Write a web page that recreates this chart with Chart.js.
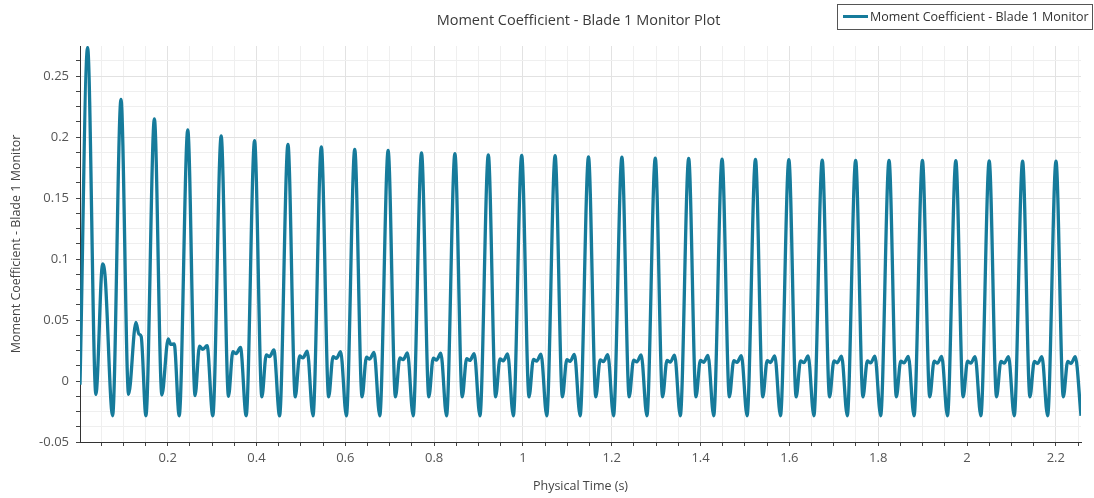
<!DOCTYPE html>
<html lang="en">
<head>
    <meta charset="UTF-8">
    <title>Moment Coefficient - Blade 1 Monitor Plot</title>
    <style>
        body {
            margin: 0;
            background-color: #ffffff;
        }

        .plot-box {
            position: relative;
            width: 1094px;
            height: 498px;
        }
    </style>
</head>
<body>

    <div class="plot-box">
        <canvas id="monitor-plot"></canvas>
    </div>

    <script src="https://cdn.jsdelivr.net/npm/chart.js"></script>
    <script>
        // Monitor samples: physical time (s) and moment coefficient, one blade revolution per line
        var timeS = [
            0.0025,
            0.0196, 0.0383, 0.0534, 0.0590, 0.0759,
            0.0948, 0.1119, 0.1284, 0.1351, 0.1403, 0.1509,
            0.1700, 0.1869, 0.2011, 0.2072, 0.2146, 0.2259,
            0.2452, 0.2617, 0.2715, 0.2790, 0.2887, 0.3015,
            0.3204, 0.3369, 0.3467, 0.3542, 0.3639, 0.3767,
            0.3956, 0.4121, 0.4219, 0.4294, 0.4391, 0.4519,
            0.4708, 0.4873, 0.4971, 0.5046, 0.5143, 0.5271,
            0.5460, 0.5625, 0.5723, 0.5798, 0.5895, 0.6023,
            0.6212, 0.6377, 0.6475, 0.6550, 0.6647, 0.6775,
            0.6964, 0.7129, 0.7227, 0.7302, 0.7399, 0.7527,
            0.7716, 0.7881, 0.7979, 0.8054, 0.8151, 0.8279,
            0.8468, 0.8633, 0.8731, 0.8806, 0.8903, 0.9031,
            0.9220, 0.9385, 0.9483, 0.9558, 0.9655, 0.9783,
            0.9972, 1.0137, 1.0235, 1.0310, 1.0407, 1.0535,
            1.0724, 1.0889, 1.0987, 1.1062, 1.1159, 1.1287,
            1.1476, 1.1641, 1.1739, 1.1814, 1.1911, 1.2039,
            1.2228, 1.2393, 1.2491, 1.2566, 1.2663, 1.2791,
            1.2980, 1.3145, 1.3243, 1.3318, 1.3415, 1.3543,
            1.3732, 1.3897, 1.3995, 1.4070, 1.4167, 1.4295,
            1.4484, 1.4649, 1.4747, 1.4822, 1.4919, 1.5047,
            1.5236, 1.5401, 1.5499, 1.5574, 1.5671, 1.5799,
            1.5988, 1.6153, 1.6251, 1.6326, 1.6423, 1.6551,
            1.6740, 1.6905, 1.7003, 1.7078, 1.7175, 1.7303,
            1.7492, 1.7657, 1.7755, 1.7830, 1.7927, 1.8055,
            1.8244, 1.8409, 1.8507, 1.8582, 1.8679, 1.8807,
            1.8996, 1.9161, 1.9259, 1.9334, 1.9431, 1.9559,
            1.9748, 1.9913, 2.0011, 2.0086, 2.0183, 2.0311,
            2.0500, 2.0665, 2.0763, 2.0838, 2.0935, 2.1063,
            2.1252, 2.1417, 2.1515, 2.1590, 2.1687, 2.1815,
            2.2004, 2.2169, 2.2267, 2.2342, 2.2439, 2.2567
        ];

        var momentCoeff = [
            -0.003,
            0.2735, -0.011, 0.096, 0.086, -0.0285,
            0.231, -0.011, 0.048, 0.0385, 0.0365, -0.0285,
            0.215, -0.0115, 0.0345, 0.030, 0.0305, -0.0285,
            0.206, -0.012, 0.0285, 0.026, 0.029, -0.0285,
            0.201, -0.0125, 0.024, 0.0225, 0.0275, -0.0285,
            0.197, -0.013, 0.0215, 0.020, 0.0255, -0.0285,
            0.194, -0.013, 0.0205, 0.019, 0.0245, -0.0285,
            0.192, -0.013, 0.020, 0.0185, 0.024, -0.0285,
            0.190, -0.013, 0.0195, 0.018, 0.0235, -0.0285,
            0.189, -0.013, 0.019, 0.0175, 0.023, -0.0285,
            0.187, -0.013, 0.0187, 0.0172, 0.0228, -0.0285,
            0.1865, -0.013, 0.0184, 0.0169, 0.0225, -0.0285,
            0.1855, -0.013, 0.0181, 0.0166, 0.0222, -0.0285,
            0.185, -0.013, 0.0178, 0.0163, 0.022, -0.0285,
            0.1848, -0.013, 0.0176, 0.0161, 0.0218, -0.0285,
            0.1838, -0.013, 0.0174, 0.0159, 0.0216, -0.0285,
            0.1835, -0.013, 0.0172, 0.0157, 0.0214, -0.0285,
            0.1828, -0.013, 0.017, 0.0155, 0.0212, -0.0285,
            0.1825, -0.013, 0.0169, 0.0154, 0.021, -0.0285,
            0.182, -0.013, 0.0168, 0.0153, 0.0208, -0.0285,
            0.1818, -0.013, 0.0167, 0.0152, 0.0206, -0.0285,
            0.1815, -0.013, 0.0166, 0.0151, 0.0205, -0.0285,
            0.1812, -0.013, 0.0165, 0.015, 0.0204, -0.0285,
            0.181, -0.013, 0.0164, 0.0149, 0.0203, -0.0285,
            0.181, -0.013, 0.0163, 0.0148, 0.0202, -0.0285,
            0.1808, -0.013, 0.0162, 0.0147, 0.0201, -0.0285,
            0.1806, -0.013, 0.0162, 0.0147, 0.020, -0.0285,
            0.1805, -0.013, 0.0161, 0.0146, 0.020, -0.0285,
            0.1803, -0.013, 0.016, 0.0145, 0.0199, -0.0285,
            0.1802, -0.013, 0.016, 0.0145, 0.0199, -0.0285
        ];

        // Axis ticks: labelled majors plus unlabelled minor steps
        var xMajorTicks = [0.2, 0.4, 0.6, 0.8, 1, 1.2, 1.4, 1.6, 1.8, 2, 2.2];
        var yMajorTicks = [-0.05, 0, 0.05, 0.1, 0.15, 0.2, 0.25];
        var xMinorStep = 0.05;
        var yMinorStep = 0.0125;

        var plotTitle = 'Moment Coefficient - Blade 1 Monitor Plot';
        var seriesName = 'Moment Coefficient - Blade 1 Monitor';
        var lineColor = '#167b9b';
        var uiFont = '"Open Sans", "Noto Sans", Arial, sans-serif';

        function isMajor(list, v) {
            for (var i = 0; i < list.length; i++) {
                if (Math.abs(list[i] - v) < 1e-6) return true;
            }
            return false;
        }

        function stepTicks(min, max, step) {
            var ticks = [];
            var start = Math.ceil(min / step - 1e-6);
            for (var k = start; k * step <= max + 1e-9; k++) {
                ticks.push({ value: Math.round(k * step * 10000) / 10000 });
            }
            return ticks;
        }

        // Title and framed legend sit above the plot area
        var headerPlugin = {
            id: 'header',
            afterDraw: function (chart) {
                var ctx = chart.ctx;
                var area = chart.chartArea;
                var ds = chart.data.datasets[0];
                ctx.save();

                ctx.fillStyle = '#3a3a3a';
                ctx.font = '14.5px ' + uiFont;
                ctx.textAlign = 'center';
                ctx.textBaseline = 'middle';
                ctx.fillText(plotTitle, (area.left + area.right) / 2 - 2, 21);

                ctx.fillStyle = '#ffffff';
                ctx.fillRect(837.5, 4.5, 255, 25);
                ctx.strokeStyle = '#555555';
                ctx.lineWidth = 1;
                ctx.strokeRect(837.5, 4.5, 255, 25);

                ctx.strokeStyle = ds.borderColor;
                ctx.lineWidth = 3;
                ctx.beginPath();
                ctx.moveTo(843, 16.5);
                ctx.lineTo(868, 16.5);
                ctx.stroke();

                ctx.fillStyle = '#333333';
                ctx.font = '12.5px ' + uiFont;
                ctx.textAlign = 'left';
                ctx.fillText(ds.label, 870, 17);
                ctx.restore();
            }
        };

        var points = [];
        for (var i = 0; i < timeS.length; i++) {
            points.push({ x: timeS[i], y: momentCoeff[i] });
        }

        var ctx = document.getElementById('monitor-plot').getContext('2d');
        var chart = new Chart(ctx, {
            type: 'line',
            data: {
                datasets: [{
                    label: seriesName,
                    data: points,
                    borderColor: lineColor,
                    borderWidth: 3.3,
                    pointRadius: 0,
                    fill: false,
                    cubicInterpolationMode: 'monotone',
                    tension: 0.4
                }]
            },
            options: {
                responsive: true,
                maintainAspectRatio: false,
                animation: false,
                layout: {
                    padding: { left: 0, right: 13, top: 46, bottom: 0 }
                },
                plugins: {
                    legend: { display: false },
                    title: { display: false },
                    tooltip: { enabled: false }
                },
                scales: {
                    x: {
                        type: 'linear',
                        min: 0.0025,
                        max: 2.2567,
                        afterFit: function (scale) { scale.height = 56; },
                        afterBuildTicks: function (scale) {
                            scale.ticks = stepTicks(scale.min, scale.max, xMinorStep);
                        },
                        ticks: {
                            autoSkip: false,
                            maxRotation: 0,
                            padding: 4,
                            color: '#555555',
                            font: { family: uiFont, size: 13 },
                            callback: function (value) {
                                return isMajor(xMajorTicks, value) ? String(value) : '';
                            }
                        },
                        grid: {
                            color: function (c) {
                                return isMajor(xMajorTicks, c.tick.value) ? '#e2e2e2' : '#efefef';
                            },
                            tickColor: '#444444',
                            tickLength: 4
                        },
                        border: { display: true, color: '#333333', width: 1 },
                        title: {
                            display: true,
                            text: 'Physical Time (s)',
                            color: '#444444',
                            font: { family: uiFont, size: 12.5 },
                            padding: { top: 0, bottom: 4 }
                        }
                    },
                    y: {
                        type: 'linear',
                        min: -0.05,
                        max: 0.2747,
                        afterFit: function (scale) { scale.width = 80; },
                        afterBuildTicks: function (scale) {
                            scale.ticks = stepTicks(scale.min, scale.max, yMinorStep);
                        },
                        ticks: {
                            autoSkip: false,
                            padding: 7,
                            color: '#555555',
                            font: { family: uiFont, size: 13 },
                            callback: function (value) {
                                return isMajor(yMajorTicks, value) ? String(value) : '';
                            }
                        },
                        grid: {
                            color: function (c) {
                                return isMajor(yMajorTicks, c.tick.value) ? '#e2e2e2' : '#efefef';
                            },
                            tickColor: '#444444',
                            tickLength: 4
                        },
                        border: { display: true, color: '#333333', width: 1 },
                        title: {
                            display: true,
                            text: seriesName,
                            color: '#444444',
                            font: { family: uiFont, size: 12.5 },
                            padding: { top: 9, bottom: 0 }
                        }
                    }
                }
            },
            plugins: [headerPlugin]
        });
    </script>
</body>
</html>
